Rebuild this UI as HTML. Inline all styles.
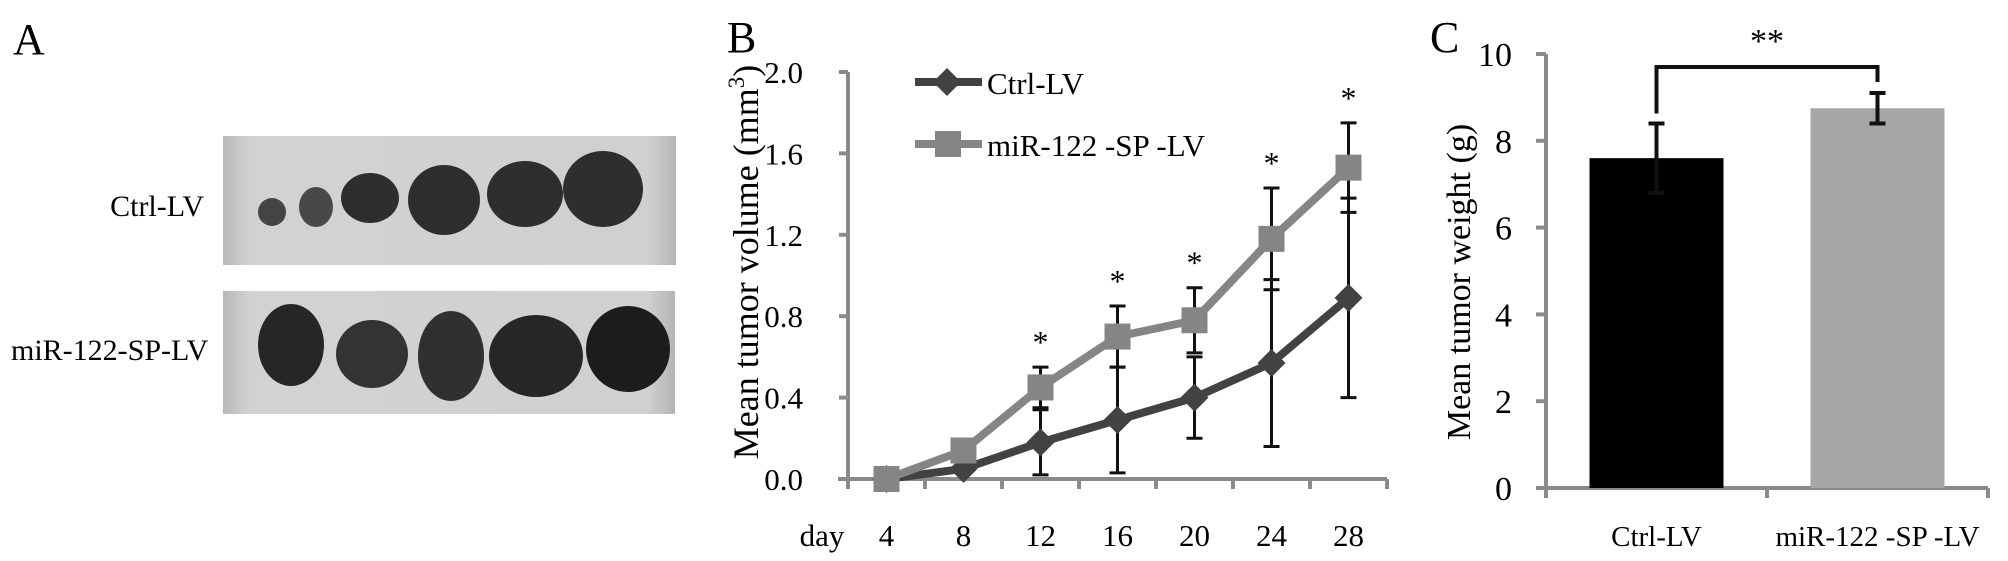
<!DOCTYPE html>
<html><head><meta charset="utf-8"><style>
html,body{margin:0;padding:0;background:#fff;}
svg{display:block;font-family:"Liberation Serif",serif;}
</style></head><body>
<svg id="fig" width="2008" height="561" viewBox="0 0 2008 561" xmlns="http://www.w3.org/2000/svg">
  <!-- Panel A -->
  <text x="13" y="54" font-size="44">A</text>
  <defs>
    <linearGradient id="dish" x1="0" x2="1" y1="0" y2="0">
      <stop offset="0" stop-color="#b8b8b8"/><stop offset="0.06" stop-color="#d2d2d2"/>
      <stop offset="0.94" stop-color="#d0d0d0"/><stop offset="1" stop-color="#b4b4b4"/>
    </linearGradient>
  </defs>
  <rect x="223" y="136" width="453" height="129" fill="url(#dish)"/>
  <rect x="223" y="291" width="452" height="123" fill="url(#dish)"/>
  <g fill="#2e2e2e">
    <ellipse cx="272" cy="212" rx="14" ry="14" fill="#444"/>
    <ellipse cx="316" cy="207" rx="17" ry="20" fill="#484848"/>
    <ellipse cx="370" cy="198" rx="29" ry="25"/>
    <ellipse cx="444" cy="200" rx="36" ry="35"/>
    <ellipse cx="525" cy="194" rx="38" ry="33"/>
    <ellipse cx="603" cy="189" rx="40" ry="38"/>
  </g>
  <g fill="#262626">
    <ellipse cx="291" cy="345" rx="33" ry="41"/>
    <ellipse cx="372" cy="354" rx="36" ry="34" fill="#333"/>
    <ellipse cx="451" cy="356" rx="33" ry="45" fill="#303030"/>
    <ellipse cx="536" cy="356" rx="47" ry="41"/>
    <ellipse cx="628" cy="349" rx="42" ry="43" fill="#1c1c1c"/>
  </g>
  <text x="204" y="216" font-size="30" text-anchor="end">Ctrl-LV</text>
  <text x="11" y="360" font-size="30">miR-122-SP-LV</text>

  <!-- Panel B -->
  <text x="727" y="52" font-size="44">B</text>
  <g id="chartB"></g>

  <!-- Panel C -->
  <text x="1430" y="52" font-size="44">C</text>
  <g id="chartC"></g>
</svg>
<script>
const days = ["4","8","12","16","20","24","28"];
const ctrlMean = [0, 0.05, 0.18, 0.29, 0.40, 0.57, 0.89];
const ctrlErr = [0, 0, 0.16, 0.26, 0.20, 0.41, 0.49];
const mirMean = [0, 0.14, 0.45, 0.70, 0.78, 1.18, 1.53];
const mirErr = [0, 0, 0.10, 0.15, 0.16, 0.25, 0.22];
const sigB = [false, false, true, true, true, true, true];
const yTicksB = [0, 0.4, 0.8, 1.2, 1.6, 2.0];

const groupsC = ["Ctrl-LV", "miR-122 -SP -LV"];
const weightMean = [7.6, 8.75];
const weightErr = [0.8, 0.35];
const yTicksC = [0, 2, 4, 6, 8, 10];

const NS = "http://www.w3.org/2000/svg";
function mk(tag, attrs, parent, txt) {
  const e = document.createElementNS(NS, tag);
  for (const k in attrs) e.setAttribute(k, attrs[k]);
  if (txt !== undefined) e.textContent = txt;
  parent.appendChild(e);
  return e;
}

// ---- Chart B ----
(function(){
  const g = document.getElementById("chartB");
  const x0 = 848, y0 = 479, yTop = 72, step = 77;
  const ys = v => y0 - (v / 2.0) * (y0 - yTop);
  const xs = i => x0 + step * (i + 0.5);
  const axisC = "#8a8a8a";
  let e;
  e = mk("line", {x1:x0, y1:yTop, x2:x0, y2:y0+9, stroke:axisC, "stroke-width":4}, g);
  
  
  e = mk("line", {x1:x0-10, y1:y0, x2:x0+step*days.length, y2:y0, stroke:axisC, "stroke-width":4}, g);
  
  
  for (const t of yTicksB) {
    e = mk("line", {x1:x0-9, y1:ys(t), x2:x0, y2:ys(t), stroke:axisC, "stroke-width":4}, g);
    
    
    e = mk("text", {x:x0-45, y:ys(t)+11, "font-size":31, "text-anchor":"end"}, g, t.toFixed(1));
    
    
  }
  for (let i = 0; i <= days.length; i++) {
    e = mk("line", {x1:x0+step*i, y1:y0, x2:x0+step*i, y2:y0+10, stroke:axisC, "stroke-width":4}, g);
    
    
  }
  days.forEach((d, i) => {
    e = mk("text", {x:xs(i), y:546, "font-size":31, "text-anchor":"middle"}, g, d);
    
    
  });
  e = mk("text", {x:822, y:546, "font-size":31, "text-anchor":"middle"}, g, "day");
  
  
  e = mk("text", {x:0, y:0, "font-size":36, "text-anchor":"middle", transform:"translate(758,262) rotate(-90)"}, g);
  
  
  e.innerHTML = 'Mean tumor volume (mm<tspan dy="-14" font-size="23">3</tspan><tspan dy="14">)</tspan>';

  function errBars(mean, err, name) {
    mean.forEach((m, i) => {
      if (!err[i]) return;
      const x = xs(i), hi = ys(m + err[i]), lo = ys(Math.max(0, m - err[i]));
      const eb = mk("path", {d:`M${x},${hi}V${lo}M${x-8},${hi}H${x+8}M${x-8},${lo}H${x+8}`, stroke:"#111", "stroke-width":3, fill:"none"}, g);
      
      
    });
  }
  errBars(ctrlMean, ctrlErr, 'ctrl-error-bar');
  errBars(mirMean, mirErr, 'mir-error-bar');

  e = mk("polyline", {points: ctrlMean.map((v,i)=>xs(i)+","+ys(v)).join(" "), stroke:"#424242", "stroke-width":8, fill:"none", "stroke-linejoin":"round"}, g);
  
  
  ctrlMean.forEach((v,i) => {
    const x = xs(i), y = ys(v);
    const p = mk("polygon", {points:`${x},${y-14} ${x+14},${y} ${x},${y+14} ${x-14},${y}`, fill:"#424242"}, g);
    
    
  });
  e = mk("polyline", {points: mirMean.map((v,i)=>xs(i)+","+ys(v)).join(" "), stroke:"#858585", "stroke-width":8, fill:"none", "stroke-linejoin":"round"}, g);
  
  
  mirMean.forEach((v,i) => {
    const p = mk("rect", {x:xs(i)-13, y:ys(v)-13, width:26, height:26, fill:"#858585"}, g);
    
    
  });
  sigB.forEach((s,i) => {
    if (!s) return;
    const t = mk("text", {x:xs(i), y:ys(mirMean[i]+mirErr[i])-14, "font-size":32, "text-anchor":"middle"}, g, "*");
    
    
  });

  e = mk("line", {x1:915, y1:82, x2:982, y2:82, stroke:"#424242", "stroke-width":8}, g);
  
  
  e = mk("polygon", {points:"947,68 961,82 947,96 933,82", fill:"#424242"}, g);
  
  
  e = mk("text", {x:987, y:94, "font-size":31}, g, "Ctrl-LV");
  
  
  e = mk("line", {x1:915, y1:144, x2:982, y2:144, stroke:"#858585", "stroke-width":8}, g);
  
  
  e = mk("rect", {x:935, y:131, width:26, height:26, fill:"#858585"}, g);
  
  
  e = mk("text", {x:987, y:156, "font-size":31}, g, "miR-122 -SP -LV");
  
  
})();

// ---- Chart C ----
(function(){
  const g = document.getElementById("chartC");
  const x0 = 1546, x1 = 1988, y0 = 488, yTop = 54;
  const ys = v => y0 - (v / 10) * (y0 - yTop);
  const bw = (x1 - x0) / groupsC.length;
  const xc = i => x0 + bw * (i + 0.5);
  const axisC = "#8a8a8a";
  const colors = ["#000000", "#a6a6a6"];
  let e;
  e = mk("line", {x1:x0, y1:yTop, x2:x0, y2:y0+10, stroke:axisC, "stroke-width":4}, g);
  
  
  e = mk("line", {x1:x0-10, y1:y0, x2:x1, y2:y0, stroke:axisC, "stroke-width":4}, g);
  
  
  for (let i = 0; i <= groupsC.length; i++) {
    e = mk("line", {x1:x0+bw*i, y1:y0, x2:x0+bw*i, y2:y0+10, stroke:axisC, "stroke-width":4}, g);
    
    
  }
  for (const t of yTicksC) {
    e = mk("text", {x:x0-34, y:ys(t)+12, "font-size":34, "text-anchor":"end"}, g, String(t));
    
    
    e = mk("line", {x1:x0-10, y1:ys(t), x2:x0, y2:ys(t), stroke:axisC, "stroke-width":4}, g);
    
    
  }
  e = mk("text", {x:0, y:0, "font-size":34, "text-anchor":"middle", transform:"translate(1470,282) rotate(-90)"}, g, "Mean tumor weight (g)");
  
  
  weightMean.forEach((v,i) => {
    const r = mk("rect", {x:xc(i)-67, y:ys(v), width:134, height:y0-ys(v), fill:colors[i]}, g);
    
    
    const x = xc(i), hi = ys(v + weightErr[i]), lo = ys(v - weightErr[i]);
    const eb = mk("path", {d:`M${x},${hi}V${lo}M${x-8},${hi}H${x+8}M${x-8},${lo}H${x+8}`, stroke:"#111", "stroke-width":4, fill:"none"}, g);
    
    
    const t = mk("text", {x:x, y:546, "font-size":29, "text-anchor":"middle"}, g, groupsC[i]);
    
    
  });
  const top = ys(9.7);
  const bl = ys(weightMean[0] + weightErr[0]) - 10, br = ys(weightMean[1] + weightErr[1]) - 11;
  e = mk("path", {d:`M${xc(0)},${bl}V${top}H${xc(1)}V${br}`, stroke:"#111", "stroke-width":4, fill:"none"}, g);
  
  
  e = mk("text", {x:(xc(0)+xc(1))/2, y:52, "font-size":34, "text-anchor":"middle"}, g, "**");
  
  
})();
</script>
</body></html>
